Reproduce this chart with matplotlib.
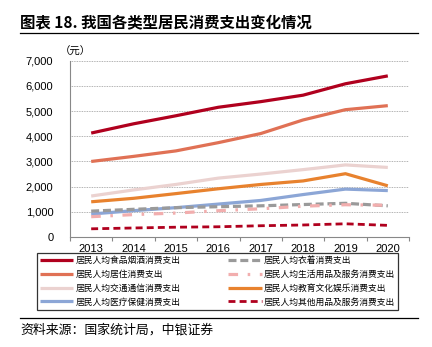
import matplotlib
matplotlib.use("Agg")
import matplotlib.pyplot as plt
from matplotlib.lines import Line2D

plt.rcParams['font.family'] = ['Liberation Sans', 'Noto Sans CJK SC', 'DejaVu Sans']

years = ['2013', '2014', '2015', '2016', '2017', '2018', '2019', '2020']
food = [4127, 4494, 4814, 5151, 5374, 5631, 6084, 6397]
housing = [2999, 3201, 3419, 3746, 4107, 4647, 5055, 5215]
transport = [1627, 1869, 2087, 2338, 2499, 2675, 2862, 2762]
health = [912, 1045, 1165, 1307, 1451, 1685, 1902, 1843]
clothing = [1027, 1099, 1164, 1203, 1238, 1289, 1338, 1238]
household = [806, 890, 951, 1044, 1121, 1223, 1281, 1260]
education = [1398, 1536, 1723, 1915, 2086, 2226, 2513, 2032]
other = [325, 358, 389, 406, 447, 477, 524, 462]

labels = ['居民人均食品烟酒消费支出', '居民人均居住消费支出', '居民人均交通通信消费支出',
          '居民人均医疗保健消费支出', '居民人均衣着消费支出', '居民人均生活用品及服务消费支出',
          '居民人均教育文化娱乐消费支出', '居民人均其他用品及服务消费支出']

W, H = 432, 347
fig = plt.figure(figsize=(W/100, H/100), dpi=100)
ax = fig.add_axes([70/W, 1-237/H, (409-70)/W, (237-60.7)/H])

x = list(range(len(years)))
series = [
    (food, dict(color='#B0001E', lw=2.3, ls='-')),
    (housing, dict(color='#E07155', lw=2.3, ls='-')),
    (transport, dict(color='#EBD2D0', lw=2.3, ls='-')),
    (health, dict(color='#8CA6D6', lw=2.3, ls='-')),
    (clothing, dict(color='#9A9A9A', lw=2.3, ls=(0, (2.5, 1.2)))),
    (household, dict(color='#F2AEAE', lw=2.3, ls=(0, (3, 3, 0.8, 3)))),
    (education, dict(color='#E8822E', lw=2.3, ls='-')),
    (other, dict(color='#B0001E', lw=2.0, ls=(0, (2.5, 1.5)))),
]
draw_order = [2, 3, 4, 5, 7, 6, 1, 0]
lines = {}
for i in draw_order:
    vals, st = series[i]
    ln, = ax.plot(x, vals, color=st['color'], lw=st['lw'], linestyle=st['ls'],
                  solid_capstyle='butt', dash_capstyle='butt')
    lines[i] = ln
handles = [lines[i] for i in range(8)]

ax.set_xlim(-0.5, 7.5)
ax.set_ylim(0, 7000)
ax.set_yticks(range(0, 7001, 1000))
ax.set_yticklabels([f'{v:,}' for v in range(0, 7001, 1000)], fontsize=8)
ax.set_xticks(x)
ax.set_xticklabels(years, fontsize=8)
ax.set_xticks([i - 0.5 for i in range(9)], minor=True)
ax.tick_params(axis='x', which='major', length=0, pad=5)
ax.tick_params(axis='x', which='minor', length=3, color='#888888', width=0.8)
ax.tick_params(axis='y', length=0, pad=12)
ax.grid(axis='y', color='#999999', lw=0.6, ls=(0, (1, 1)))
ax.set_axisbelow(True)
for s in ['top', 'right']:
    ax.spines[s].set_visible(False)
for s in ['left', 'bottom']:
    ax.spines[s].set_color('#888888')
    ax.spines[s].set_linewidth(0.8)

fig.text(60/W, 1-52/H, '（元）', fontsize=7.5, family=['Noto Sans CJK SC'], va='center', ha='left')

leg = fig.legend(handles, labels, ncol=2, loc='upper left',
                 bbox_to_anchor=(37/W, 1-312/H, (398-37)/W, (312-253)/H), mode='expand',
                 borderaxespad=0, prop={'family': ['Noto Sans CJK SC'], 'size': 6.3},
                 frameon=True, fancybox=False, edgecolor='black', handlelength=3.8,
                 handletextpad=0.25, labelspacing=0.55, columnspacing=1.0, borderpad=0.35)
leg.get_frame().set_linewidth(0.9)

fig.text(20/W, 1-22/H, '图表 18. 我国各类型居民消费支出变化情况', fontsize=11.1, fontweight='bold',
         family=['Noto Sans CJK SC'], va='center', ha='left')
fig.add_artist(Line2D([20/W, 418/W], [1-33/H, 1-33/H], color='black', lw=0.9))
fig.add_artist(Line2D([20/W, 418/W], [1-318/H, 1-318/H], color='black', lw=0.9))
fig.text(20/W, 1-330/H, '资料来源：国家统计局，中银证券', fontsize=9.3, style='italic',
         family=['Noto Sans CJK SC'], va='center', ha='left')

fig.savefig('out.png', dpi=100)
